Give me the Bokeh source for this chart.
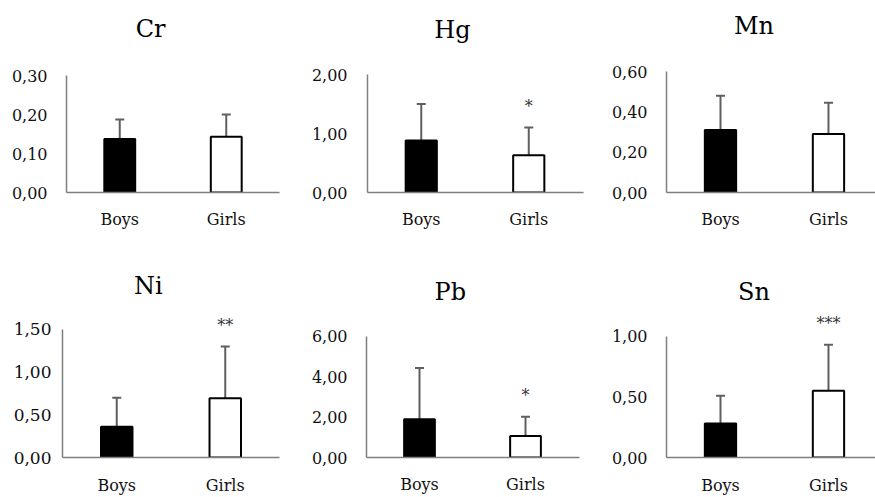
import numpy as np
from bokeh.plotting import figure
from bokeh.layouts import row, column
from bokeh.models import (Range1d, FixedTicker, Whisker, ColumnDataSource,
                          TeeHead, CustomJSTickFormatter)
from bokeh.core.properties import value
from bokeh.embed import file_html
from bokeh.resources import INLINE

# ---------------- data ----------------
elements = ["Cr", "Hg", "Mn", "Ni", "Pb", "Sn"]
groups = ["Boys", "Girls"]
boys_mean = [0.137, 0.88, 0.31, 0.36, 1.89, 0.28]
boys_sd = [0.050, 0.62, 0.17, 0.34, 2.54, 0.23]
girls_mean = [0.143, 0.63, 0.29, 0.695, 1.06, 0.55]
girls_sd = [0.057, 0.47, 0.155, 0.605, 0.96, 0.38]
signif = ["", "*", "", "**", "*", "***"]
y_max = [0.30, 2.00, 0.60, 1.50, 6.00, 1.00]
y_step = [0.10, 1.00, 0.20, 0.50, 2.00, 0.50]

# ---------------- layout (pixels) ----------------
col_w = [308, 300, 267]
row_h = [250, 247]
row_bottom = [58, 37]          # space below the x axis in each row
axis_left = [66, 57, 57, 62, 55, 57]
frame_right = [279, 275, 267, 279, 271, 267]   # within the figure
unit_px = [106.5, 108.5, 108.5, 108.5, 107.5, 108.5]
top_px = [75, 74, 71, 80, 87, 87]       # y of the top tick, from the figure top
title_px = [28, 29, 25, 36, 42, 42]
title_x = [0.79, 0.79, 0.81, 0.79, 0.79, 0.81]
tick_size = [16, 16, 16, 17, 16, 16]
tick_standoff = [19, 20, 19, 11, 19, 19]
cat_standoff = [17, 17, 17, 18, 17, 18]

FONT = "DejaVu Serif"
GRAY = "#7f7f7f"
ERR = "#5f5f5f"
TXT = "#111111"

plots = []
for i, el in enumerate(elements):
    r, c = divmod(i, 3)
    W = col_w[c]
    H = row_h[r]
    L = axis_left[i]
    R = W - frame_right[i]
    frame_w = frame_right[i] - L
    frame_h = H - row_bottom[r]
    x_end = frame_w / unit_px[i]
    px_per = (frame_h - top_px[i]) / y_max[i]
    y_end = frame_h / px_per

    p = figure(width=W, height=H, title=None,
               x_range=Range1d(0, x_end), y_range=Range1d(0, y_end),
               min_border_left=L, min_border_right=R,
               min_border_top=0, min_border_bottom=row_bottom[r],
               output_backend="svg", toolbar_location=None,
               outline_line_color=None, background_fill_color="white",
               border_fill_color="white")
    p.grid.visible = False

    for ax in (p.xaxis, p.yaxis):
        ax.axis_line_color = GRAY
        ax.axis_line_width = 1.5
        ax.major_tick_line_color = None
        ax.minor_tick_line_color = None
        ax.major_tick_out = 0
        ax.major_tick_in = 0
        ax.minor_tick_out = 0
        ax.minor_tick_in = 0
        ax.major_label_text_font = FONT
        ax.major_label_text_color = TXT

    # y axis
    ticks = [round(k * y_step[i], 4) for k in range(int(round(y_max[i] / y_step[i])) + 1)]
    p.yaxis.ticker = FixedTicker(ticks=ticks)
    p.yaxis.formatter = CustomJSTickFormatter(code="return tick.toFixed(2).replace('.', ',');")
    p.yaxis.bounds = (0, y_max[i])
    p.yaxis.major_label_standoff = tick_standoff[i]
    p.yaxis.major_label_text_font_size = f"{tick_size[i]}px"

    # x axis
    p.xaxis.ticker = FixedTicker(ticks=[0.5, 1.5])
    p.xaxis.formatter = CustomJSTickFormatter(args=dict(labels=groups),
                                              code="return labels[Math.round(tick - 0.5)];")
    p.xaxis.major_label_standoff = cat_standoff[i]
    p.xaxis.major_label_text_font_size = "16px"

    means = [boys_mean[i], girls_mean[i]]
    sds = [boys_sd[i], girls_sd[i]]
    src = ColumnDataSource(dict(
        x=[0.5, 1.5], m=means, upper=[m + s for m, s in zip(means, sds)],
        fill=["black", "white"]))

    p.vbar(x="x", top="m", width=0.29, source=src, fill_color="fill",
           line_color="black", line_width=2)

    p.add_layout(Whisker(base="x", lower="m", upper="upper", source=src,
                         line_color=ERR, line_width=2, lower_head=None,
                         upper_head=TeeHead(size=9, line_color=ERR, line_width=2)))

    # panel title
    p.text(x=[title_x[i]], y=[(frame_h - title_px[i]) / px_per], text=[el],
           text_align="center", text_baseline="middle",
           text_font=value(FONT), text_font_size="24px", text_color="black")

    # significance marks
    if signif[i]:
        p.text(x=[1.5], y=[girls_mean[i] + girls_sd[i]], text=[signif[i]],
               y_offset=-21, text_align="center", text_baseline="middle",
               text_font=value(FONT), text_font_size="16px", text_color="#333333")

    plots.append(p)

layout = column(row(*plots[:3]), row(*plots[3:]))
open("out.html", "w").write(file_html(layout, INLINE))
